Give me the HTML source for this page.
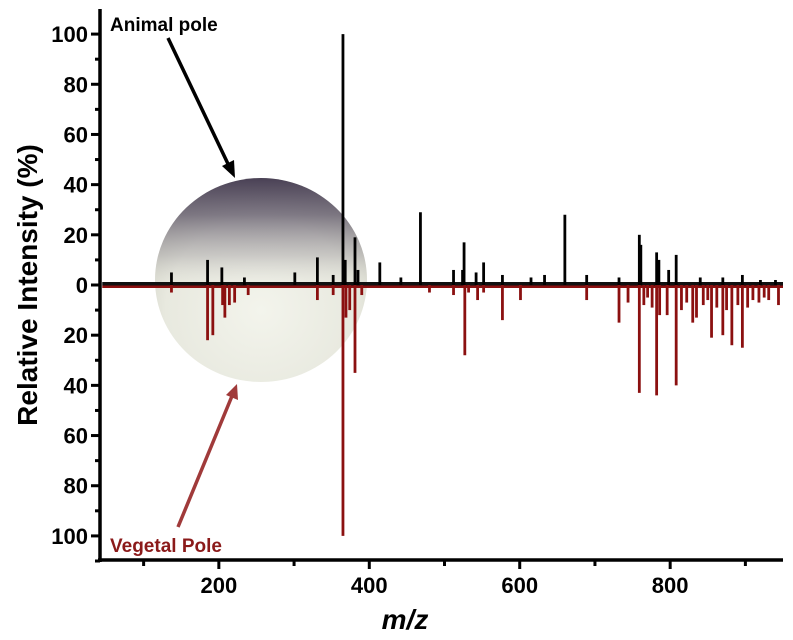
<!DOCTYPE html>
<html><head><meta charset="utf-8"><style>
body{margin:0;background:#fff;}
svg{display:block;font-family:"Liberation Sans",Arial,sans-serif;}
</style></head><body>
<svg id="chart" width="793" height="640">
<defs>
<radialGradient id="eggLight" cx="0.5" cy="0.65" r="0.6">
<stop offset="0" stop-color="#f3f4ec"/><stop offset="0.75" stop-color="#e8e9df"/><stop offset="1" stop-color="#d4d5ca"/>
</radialGradient>
<linearGradient id="eggDark" x1="0" y1="0" x2="0" y2="1">
<stop offset="0" stop-color="#3a3048" stop-opacity="0.9"/><stop offset="0.18" stop-color="#5e5668" stop-opacity="0.75"/><stop offset="0.38" stop-color="#a09ca0" stop-opacity="0.45"/><stop offset="0.55" stop-color="#e0e0d6" stop-opacity="0"/>
</linearGradient>
</defs>
<g>
<ellipse cx="261" cy="280" rx="106" ry="102" fill="url(#eggLight)"/>
<ellipse cx="261" cy="280" rx="106" ry="102" fill="url(#eggDark)"/>
</g>
<g id="marks"></g>
<g id="axes"></g>
<text x="110" y="31" font-size="19" font-weight="bold" fill="#000">Animal pole</text>
<line x1="168" y1="38" x2="229" y2="166" stroke="#000" stroke-width="3.5"/>
<polygon points="235,178 222,166 234,160" fill="#000"/>
<text x="110" y="552" font-size="19" font-weight="bold" fill="#8b1a1a">Vegetal Pole</text>
<line x1="178" y1="527" x2="232" y2="396" stroke="#a03a3a" stroke-width="3.5"/>
<polygon points="237,384 238,400 226,395" fill="#a03a3a"/>
<text transform="translate(37,285) rotate(-90)" text-anchor="middle" font-size="28" font-weight="bold">Relative Intensity (%)</text>
<text x="405" y="629" text-anchor="middle" font-size="28" font-weight="bold" font-style="italic">m/z</text>
</svg>
<script>
const animalMz = [137,185,204,234,301,331,352,365,368,381,385,414,442,468,512,524,526,542,552,577,615,633,660,689,732,759,761,782,785,798,808,840,870,896,920,940];
const animalInt = [5,10,7,3,5,11,4,100,10,19,6,9,3,29,6,6,17,5,9,4,3,4,28,4,3,20,16,13,10,6,12,3,3,4,2,2];
const vegetalMz = [137,185,192,205,208,214,221,239,331,352,365,369,374,381,390,480,512,527,532,544,552,577,601,689,732,744,759,765,770,776,782,786,796,808,815,822,830,835,844,850,855,862,870,875,882,890,896,903,910,918,925,931,944];
const vegetalInt = [3,22,20,8,13,8,7,4,6,4,100,13,10,35,4,3,4,28,3,6,3,14,6,6,15,7,43,8,5,9,44,12,12,40,10,7,15,13,8,6,21,9,20,10,24,8,25,9,6,7,5,6,8];
const xTicks = [200,400,600,800];
const xMinor = [100,300,500,700,900];
const yTicks = [100,80,60,40,20,0,-20,-40,-60,-80,-100];
const NS='http://www.w3.org/2000/svg';
const xMin=42, xMax=950, yMin=-109.6, yMax=110;
const L=100, R=783, T=9, B=560;
function xs(m){return L+(m-xMin)/(xMax-xMin)*(R-L);}
function ys(v){return B-(v-yMin)/(yMax-yMin)*(B-T);}
function mk(tag,attrs,parent){const e=document.createElementNS(NS,tag);for(const k in attrs)e.setAttribute(k,attrs[k]);parent.appendChild(e);return e;}
const marks=document.getElementById('marks'), axes=document.getElementById('axes');
const y0=ys(0);
let bl=mk('rect',{x:xs(45),y:y0-3,width:xs(950)-xs(45),height:3.5,fill:'#111'},marks);


let rb=mk('rect',{x:xs(45),y:y0+0.5,width:xs(950)-xs(45),height:2.5,fill:'#8b1010'},marks);


let rb2=mk('rect',{x:xs(735),y:y0+0.5,width:xs(950)-xs(735),height:ys(0)-ys(-4),fill:'#8b1010'},marks);


vegetalMz.forEach((m,i)=>{
 const l=mk('line',{x1:xs(m),x2:xs(m),y1:y0,y2:ys(-vegetalInt[i]),stroke:'#8b1010','stroke-width':2.8},marks);
 
 
});
animalMz.forEach((m,i)=>{
 const l=mk('line',{x1:xs(m),x2:xs(m),y1:y0,y2:ys(animalInt[i]),stroke:'#000','stroke-width':2.8},marks);
 
 
});
let ya=mk('line',{x1:L,x2:L,y1:T,y2:B+2,stroke:'#000','stroke-width':3.5},axes);


let xa=mk('line',{x1:L-2,x2:R,y1:B,y2:B,stroke:'#000','stroke-width':3.5},axes);


yTicks.forEach(v=>{
 const y=ys(v);
 const t=mk('line',{x1:L-9,x2:L,y1:y,y2:y,stroke:'#000','stroke-width':3},axes);
 
 
 const m=mk('line',{x1:L-5,x2:L,y1:ys(v-10),y2:ys(v-10),stroke:'#000','stroke-width':3},axes);
 
 
 const tx=mk('text',{x:L-12,y:y+8,'text-anchor':'end','font-size':22,'font-weight':'bold'},axes);
 tx.textContent=Math.abs(v);
 
 
});
xTicks.forEach(v=>{
 const x=xs(v);
 const t=mk('line',{x1:x,x2:x,y1:B,y2:B+9,stroke:'#000','stroke-width':3},axes);
 
 
 const tx=mk('text',{x:x,y:B+33,'text-anchor':'middle','font-size':22,'font-weight':'bold'},axes);
 tx.textContent=v;
 
 
});
xMinor.forEach(v=>{
 const t=mk('line',{x1:xs(v),x2:xs(v),y1:B,y2:B+6,stroke:'#000','stroke-width':3},axes);
 
 
});
</script>
</body></html>
